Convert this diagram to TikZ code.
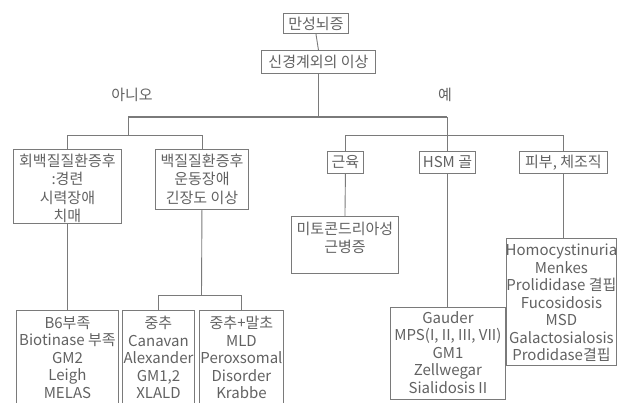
\documentclass[tikz,border=0pt]{standalone}
\usepackage{fontspec}
\setmainfont{Noto Sans CJK KR}
\definecolor{linec}{HTML}{7A7A7A}
\definecolor{textc}{HTML}{626262}
\tikzset{
  box/.style={draw=linec, line width=0.9pt, inner sep=0pt, text=textc, anchor=north west,
    font=\fontsize{15}{17.5}\selectfont},
  txt/.style={text=textc, align=center, inner sep=0pt, anchor=north,
    font=\fontsize{15}{17.5}\selectfont},
  txtw/.style={txt, font=\fontsize{15}{18.3}\selectfont},
  conn/.style={draw=linec, line width=0.9pt},
  mainconn/.style={draw=linec, line width=1.4pt}
}
\begin{document}
\begin{tikzpicture}[x=1pt, y=-1pt]
\useasboundingbox (0,0) rectangle (624,402);
\clip (0,0) rectangle (624,402);
\fill[white] (0,0) rectangle (624,402);
% top
\node[box, minimum width=65pt, minimum height=20pt] (top) at (283,13) {만성뇌증};
\node[box, minimum width=114pt, minimum height=23pt] (mid) at (261,50) {신경계외의 이상};
% level 2 left
\node[box, minimum width=108pt, minimum height=74pt] (gray) at (13,149) {};
\node[txtw] at ([yshift=-5pt]gray.north) {회백질질환증후\\:경련\\시력장애\\치매};
\node[box, minimum width=93pt, minimum height=60pt] (white) at (155,149) {};
\node[txtw] at ([yshift=-5pt]white.north) {백질질환증후\\운동장애\\긴장도 이상};
% level 2 right
\node[box, minimum width=36pt, minimum height=22pt] (muscle) at (327,151) {근육};
\node[box, minimum width=56pt, minimum height=22pt] (hsm) at (419,151) {HSM 골};
\node[box, minimum width=88pt, minimum height=22pt] (skin) at (519,151) {피부, 체조직};
% level 3 right
\node[box, minimum width=107pt, minimum height=57pt] (mito) at (291,216) {};
\node[txt] at ([yshift=-6pt]mito.north) {미토콘드리아성\\근병증};
\node[box, minimum width=115pt, minimum height=92pt] (gauder) at (390,307) {};
\node[txt] at ([yshift=-4pt]gauder.north) {Gauder\\MPS(I, II, III, VII)\\GM1\\Zellwegar\\Sialidosis II};
\node[box, minimum width=110pt, minimum height=127pt] (homo) at (506,238) {};
\node[txt] at ([yshift=-6pt]homo.north) {Homocystinuria\\Menkes\\Prolididase 결핍\\Fucosidosis\\MSD\\Galactosialosis\\Prodidase결핍};
% level 3 left
\node[box, minimum width=102pt, minimum height=120pt] (b6) at (16,310) {};
\node[txt] at ([yshift=-6pt]b6.north) {B6부족\\Biotinase 부족\\GM2\\Leigh\\MELAS};
\node[box, minimum width=72pt, minimum height=120pt] (central) at (122,310) {};
\node[txt] at ([yshift=-6pt]central.north) {중추\\Canavan\\Alexander\\GM1,2\\XLALD};
\node[box, minimum width=84pt, minimum height=120pt] (cp) at (199,310) {};
\node[txt] at ([yshift=-6pt]cp.north) {중추+말초\\MLD\\Peroxsomal\\Disorder\\Krabbe};
% labels
\node[txt, anchor=center] (no) at (132,95) {아니오};
\node[txt, anchor=center] (yes) at (445,95) {예};
% coordinates
\coordinate (J) at (mid.south |- 0,117);
\coordinate (L) at (128,117);
\coordinate (R) at (447,117);
\coordinate (L2) at (128,135);
\coordinate (R2) at (447,135);
\coordinate (W2) at (201.5,295);
% connectors
\draw[conn] (top.south) -- (mid.north);
\draw[conn] (mid.south) -- (J);
\draw[mainconn] (L) -- (R);
\draw[conn] (L) -- (L2);
\draw[conn] (R) -- (R2);
\draw[conn] (gray.north |- L2) -- (white.north |- L2);
\draw[conn] (gray.north |- L2) -- (gray.north);
\draw[conn] (white.north |- L2) -- (white.north);
\draw[conn] (muscle.north |- R2) -- (skin.north |- R2);
\draw[conn] (muscle.north |- R2) -- (muscle.north);
\draw[conn] (hsm.north |- R2) -- (hsm.north);
\draw[conn] (skin.north |- R2) -- (skin.north);
\draw[conn] (muscle.south) -- (mito.north);
\draw[conn] (hsm.south) -- (hsm.south |- gauder.north);
\draw[conn] (skin.south) -- (skin.south |- homo.north);
\draw[conn] (gray.south) -- (gray.south |- b6.north);
\draw[conn] (white.south) -- (W2);
\draw[conn] (central.north |- W2) -- (cp.north |- W2);
\draw[conn] (central.north |- W2) -- (central.north);
\draw[conn] (cp.north |- W2) -- (cp.north);
\end{tikzpicture}
\end{document}
